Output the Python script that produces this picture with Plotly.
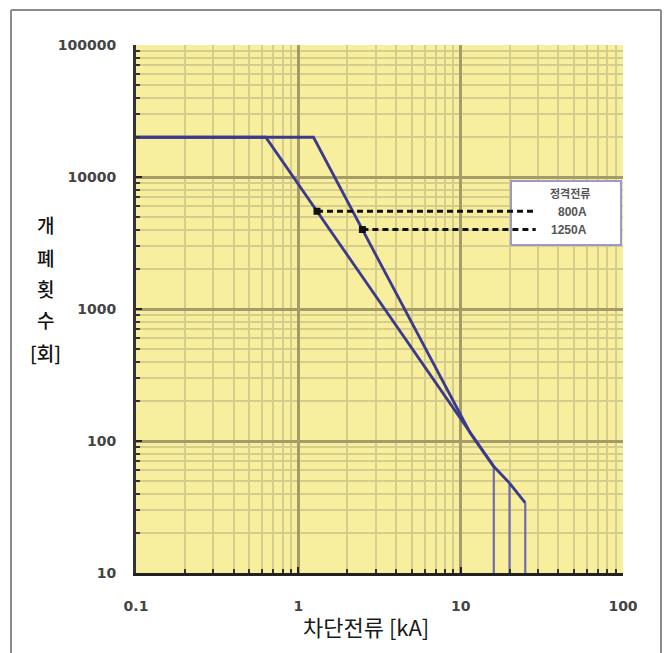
import numpy as np
import plotly.graph_objects as go

# Breaking current [kA] vs. number of operations for two rated currents
c1250_x = [0.1, 1.24, 11.5, 16, 16]
c1250_y = [20000, 20000, 114, 64, 10]
c800_x = [0.1, 0.63, 16, 20, 20]
c800_y = [20000, 20000, 64, 48, 10]
ext_x = [20, 25, 25]
ext_y = [48, 34, 10]

legend_title = "정격전류"
legend_labels = ["800A", "1250A"]
legend_level = [5500, 4000]       # operations at which each key line leaves its curve
legend_end_x = 29                 # kA where the key lines stop inside the box

x_ticks = [0.1, 1, 10, 100]
x_ticktext = ["0.1", "1", "10", "100"]
y_ticks = [10, 100, 1000, 10000, 100000]
y_ticktext = ["10", "100", "1000", "10000", "100000"]

x_minor = [m * 10.0 ** e for e in (-1, 0, 1) for m in range(2, 10)]
y_minor = [m * 10.0 ** e for e in (1, 2, 3, 4) for m in range(2, 10)]

X_RANGE = (-1, 2)
Y_RANGE = (1, 5)

# plot area in pixels
L, R, T, B = 136, 623, 45, 573
W, H = 667, 653


def px(x):
    return (x - L) / (R - L)


def py(y):
    return (B - y) / (B - T)


def data_x(p):
    return 10 ** (X_RANGE[0] + (p - L) / (R - L) * (X_RANGE[1] - X_RANGE[0]))


def data_y(p):
    return 10 ** (Y_RANGE[1] - (p - T) / (B - T) * (Y_RANGE[1] - Y_RANGE[0]))


def x_at_level(xs, ys, level):
    """Log-log interpolation of the falling part of a curve."""
    lx, ly = np.log10(xs), np.log10(ys)
    for i in range(len(xs) - 1):
        if ly[i] >= np.log10(level) >= ly[i + 1] and lx[i + 1] > lx[i]:
            t = (ly[i] - np.log10(level)) / (ly[i] - ly[i + 1])
            return 10 ** (lx[i] + t * (lx[i + 1] - lx[i]))
    return xs[0]


LINE = "#3b3a8c"
VLINE = "#6e6caa"

fig = go.Figure()

# white key box (drawn as a trace so it sits above the grid, below the key lines)
bx0, bx1 = data_x(511), data_x(621)
by0, by1 = data_y(245), data_y(181)
fig.add_trace(go.Scatter(x=[bx0, bx1, bx1, bx0, bx0], y=[by0, by0, by1, by1, by0],
                         mode="lines", fill="toself", fillcolor="white",
                         line=dict(color="#9b99c9", width=2),
                         showlegend=False, hoverinfo="skip"))


def add_curve(xs, ys):
    # sloped part in the dark line colour, the final drop thinner
    fig.add_trace(go.Scatter(x=xs[:-1], y=ys[:-1], mode="lines",
                             line=dict(color=LINE, width=2.8), showlegend=False,
                             hoverinfo="skip"))
    fig.add_trace(go.Scatter(x=xs[-2:], y=ys[-2:], mode="lines",
                             line=dict(color=VLINE, width=2.2), showlegend=False,
                             hoverinfo="skip"))


add_curve(c1250_x, c1250_y)
add_curve(c800_x, c800_y)
add_curve(ext_x, ext_y)

# key lines joining each curve to its label
for xs, ys, lvl in ((c800_x, c800_y, legend_level[0]), (c1250_x, c1250_y, legend_level[1])):
    x0 = x_at_level(xs, ys, lvl)
    fig.add_trace(go.Scatter(x=[x0, legend_end_x], y=[lvl, lvl], mode="lines",
                             line=dict(color="#111111", width=3, dash="6px,4px"),
                             showlegend=False, hoverinfo="skip"))
    fig.add_trace(go.Scatter(x=[x0], y=[lvl], mode="markers",
                             marker=dict(symbol="square", size=7, color="#111111"),
                             showlegend=False, hoverinfo="skip"))

grid_major = "#a39c68"
grid_minor = "#d6cc8c"
tick_font = dict(family="DejaVu Sans", size=14, color="#444444", weight="bold")

fig.update_xaxes(
    type="log", range=list(X_RANGE),
    tickvals=x_ticks, ticktext=x_ticktext,
    ticks="inside", ticklen=6, tickwidth=2, tickcolor="#222222",
    showgrid=True, gridcolor=grid_major, gridwidth=3,
    showline=True, linecolor="#222222", linewidth=3, mirror=False,
    tickfont=tick_font,
    ticklabelstandoff=18,
    minor=dict(tickvals=x_minor, ticks="inside", ticklen=4, tickwidth=2,
               tickcolor="#333333", showgrid=True, gridcolor=grid_minor, gridwidth=2),
    zeroline=False,
)
fig.update_yaxes(
    type="log", range=list(Y_RANGE),
    tickvals=y_ticks, ticktext=y_ticktext,
    ticks="inside", ticklen=6, tickwidth=2, tickcolor="#222222",
    showgrid=True, gridcolor=grid_major, gridwidth=3,
    showline=True, linecolor="#333333", linewidth=3, mirror=False,
    tickfont=tick_font,
    ticklabelstandoff=14,
    minor=dict(tickvals=y_minor, ticks="inside", ticklen=4, tickwidth=2,
               tickcolor="#333333", showgrid=True, gridcolor=grid_minor, gridwidth=2),
    zeroline=False,
)

shapes = [
    # outer frame
    dict(type="line", xref="paper", yref="paper", x0=px(11), x1=px(11), y0=py(10), y1=py(660),
         line=dict(color="#8a8a8a", width=2)),
    dict(type="line", xref="paper", yref="paper", x0=px(661), x1=px(661), y0=py(10), y1=py(660),
         line=dict(color="#8a8a8a", width=2)),
    dict(type="line", xref="paper", yref="paper", x0=px(11), x1=px(661), y0=py(10), y1=py(10),
         line=dict(color="#8a8a8a", width=2)),
]

annotations = []
ytitle = [("개", 224), ("폐", 257), ("횟", 288), ("수", 320), ("[회]", 353)]
for ch, yy in ytitle:
    annotations.append(dict(text=ch, xref="paper", yref="paper", x=px(45), y=py(yy),
                            xanchor="center", yanchor="middle", showarrow=False,
                            font=dict(family="Noto Sans CJK KR", size=19, color="#111111",
                                      weight=500)))
annotations.append(dict(text="차단전류 [kA]", xref="paper", yref="paper", x=px(366), y=py(626),
                        xanchor="center", yanchor="middle", showarrow=False,
                        font=dict(family="Noto Sans CJK KR", size=22, color="#1a1a1a")))
annotations.append(dict(text=legend_title, xref="paper", yref="paper", x=px(570), y=py(193),
                        xanchor="center", yanchor="middle", showarrow=False,
                        font=dict(family="Noto Sans CJK KR", size=11, color="#555555",
                                  weight="bold")))
for lab, yy, xx in zip(legend_labels, (212, 230), (572, 569)):
    annotations.append(dict(text=lab, xref="paper", yref="paper", x=px(xx), y=py(yy),
                            xanchor="center", yanchor="middle", showarrow=False,
                            font=dict(family="Liberation Sans", size=12, color="#555555",
                                      weight="bold")))

fig.update_layout(
    width=W, height=H,
    margin=dict(l=L, r=W - R, t=T, b=H - B),
    paper_bgcolor="white",
    plot_bgcolor="#f7ef9e",
    shapes=shapes,
    annotations=annotations,
    showlegend=False,
)

fig.write_html("out.html")
